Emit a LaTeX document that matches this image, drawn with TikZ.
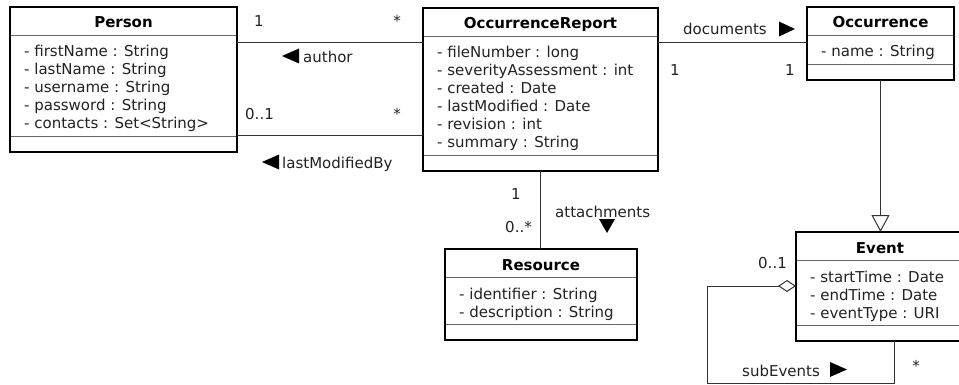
\documentclass[tikz,border=0pt]{standalone}
\usepackage{fontspec}
\setmainfont{DejaVu Sans}
\usetikzlibrary{arrows.meta,calc}

\definecolor{ink}{HTML}{222222}
\definecolor{rulegray}{HTML}{666666}
\definecolor{wiregray}{HTML}{333333}

\tikzset{
  classbox/.style={rectangle, draw=black, line width=2.6pt, fill=white, inner sep=0pt, outer sep=0pt},
  divider/.style={draw=rulegray, line width=0.9pt},
  titletext/.style={font=\fontsize{15}{18}\selectfont\bfseries, text=black, inner sep=0pt},
  attrtext/.style={font=\fontsize{15}{18}\selectfont, text=ink, inner sep=0pt},
  lbl/.style={font=\fontsize{15}{18}\selectfont, text=ink, inner sep=0pt},
  wire/.style={draw=wiregray, line width=1pt},
  dirmark/.style={fill=black},
}

% UML class: name, left x, top y, right x, title, attributes, number of attributes
\newcommand\umlclass[7]{%
  \pgfmathsetmacro\classh{55+18*#7}%
  \node[classbox, minimum width={#4-#2}, minimum height=\classh, anchor=north west] (#1) at (#2,#3) {};
  \node[titletext, anchor=base] (#1-title) at ([yshift=-21pt]#1.north) {#5};
  \draw[divider] ([xshift=1.3pt,yshift=-28pt]#1.north west) -- ([xshift=-1.3pt,yshift=-28pt]#1.north east);
  \draw[divider] ([xshift=1.3pt,yshift=16pt]#1.south west) -- ([xshift=-1.3pt,yshift=16pt]#1.south east);
  \foreach \attritem [count=\i from 0] in {#6}
    \node[attrtext, anchor=base west] (#1-a\i) at ([xshift=14pt,yshift={-50pt-18pt*\i}]#1.north west) {\attritem};
}

\begin{document}
\begin{tikzpicture}[x=1pt, y=-1pt]
\fill[white] (0,0) rectangle (959,385);
\useasboundingbox (0,0) rectangle (959,385);

% classes
\umlclass{person}{10}{7}{237}{Person}{- firstName : String, - lastName : String, - username : String, - password : String, - contacts : Set<String>}{5}
\umlclass{oreport}{423}{8}{658}{OccurrenceReport}{- fileNumber : long, - severityAssessment : int, - created : Date, - lastModified : Date, - revision : int, - summary : String}{6}
\umlclass{occ}{807}{7}{954}{Occurrence}{- name : String}{1}
\umlclass{resource}{445}{249}{637}{Resource}{- identifier : String, - description : String}{2}
\umlclass{event}{796}{232}{964}{Event}{- startTime : Date, - endTime : Date, - eventType : URI}{3}

% author association
\draw[wire] ([yshift=-36pt]person.north east) -- ([yshift=-36pt]person.north east -| oreport.west);
\node[lbl, anchor=base] (authorsrc) at (259,27) {1};
\node[lbl, anchor=base] (authortgt) at (397,27) {*};
\fill[dirmark] (299,48.5) -- (299,63.5) -- (282,56) -- cycle;
\node[lbl, anchor=base west] (authorlbl) at (303,63) {author};

% lastModifiedBy association
\draw[wire] ([yshift=16pt]person.south east) -- ([yshift=16pt]person.south east -| oreport.west);
\node[lbl, anchor=base west] (modsrc) at (245,120) {0..1};
\node[lbl, anchor=base] (modtgt) at (397,120) {*};
\fill[dirmark] (279,154.5) -- (279,169.5) -- (262,162) -- cycle;
\node[lbl, anchor=base west] (modlbl) at (282,168) {lastModifiedBy};

% documents association
\draw[wire] ([yshift=-35pt]oreport.north east) -- ([yshift=-35pt]oreport.north east -| occ.west);
\node[lbl, anchor=base west] (doclbl) at (683,35) {documents};
\fill[dirmark] (779,21.5) -- (779,36.5) -- (795,29) -- cycle;
\node[lbl, anchor=base] (docsrc) at (675,76) {1};
\node[lbl, anchor=base] (doctgt) at (790,76) {1};

% attachments association
\draw[wire] (oreport.south) -- (oreport.south |- resource.north);
\node[lbl, anchor=base] (attsrc) at (516,200) {1};
\node[lbl, anchor=base east] (atttgt) at (532,233) {0..*};
\node[lbl, anchor=base west] (attlbl) at (555,217) {attachments};
\fill[dirmark] (599,219) -- (615,219) -- (607,233) -- cycle;

% generalization Event -> Occurrence
\draw[wire, -{Triangle[open, length=17pt, width=18pt, line width=1pt]}] (occ.south) -- (occ.south |- event.north);

% subEvents aggregation
\coordinate (loopleft) at (707,286);
\coordinate (loopbottom) at (707,383);
\coordinate (loopright) at ([xshift=98pt]event.south west);
\draw[wire, {Diamond[open, length=18pt, width=12pt, line width=1pt]}-]
  ([yshift=-54pt]event.north west) -- (loopleft) -- (loopbottom)
  -- (loopbottom -| loopright) -- (loopright);
\node[lbl, anchor=base west] (sublbl) at (742,376) {subEvents};
\fill[dirmark] (830,362) -- (830,377) -- (847,369.5) -- cycle;
\node[lbl, anchor=base west] (subsrc) at (758,268) {0..1};
\node[lbl, anchor=base] (subtgt) at (916,371) {*};
\end{tikzpicture}
\end{document}
